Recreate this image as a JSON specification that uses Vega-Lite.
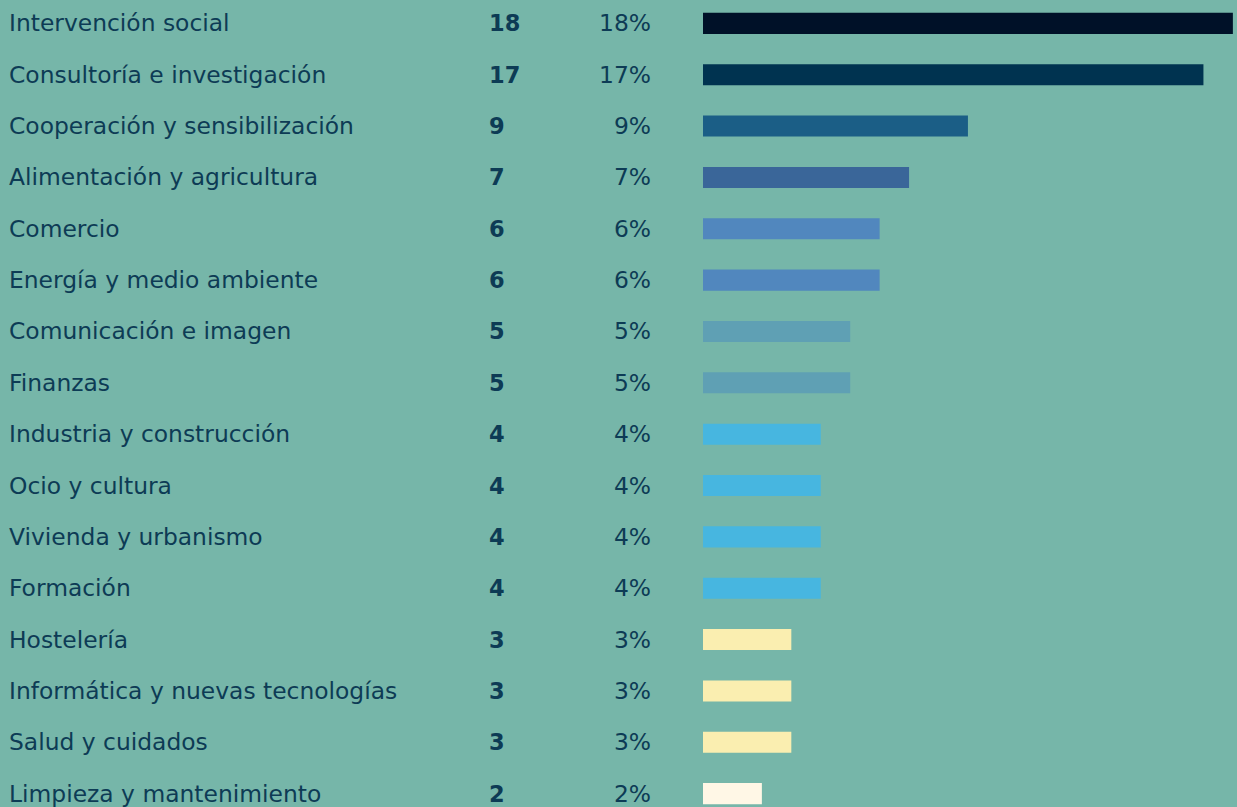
{
  "$schema": "https://vega.github.io/schema/vega-lite/v6.json",
  "background": "#76B6A9",
  "padding": {"left": 9, "top": 0, "right": 0, "bottom": 0},
  "spacing": 0,
  "config": {
    "view": {"stroke": null},
    "concat": {"spacing": 0},
    "text": {"font": "DejaVu Sans", "fontSize": 23.4, "color": "#0D3B55", "baseline": "middle"}
  },
  "data": {
    "values": [
      {"sector": "Intervención social", "n": 18, "pct": "18%"},
      {"sector": "Consultoría e investigación", "n": 17, "pct": "17%"},
      {"sector": "Cooperación y sensibilización", "n": 9, "pct": "9%"},
      {"sector": "Alimentación y agricultura", "n": 7, "pct": "7%"},
      {"sector": "Comercio", "n": 6, "pct": "6%"},
      {"sector": "Energía y medio ambiente", "n": 6, "pct": "6%"},
      {"sector": "Comunicación e imagen", "n": 5, "pct": "5%"},
      {"sector": "Finanzas", "n": 5, "pct": "5%"},
      {"sector": "Industria y construcción", "n": 4, "pct": "4%"},
      {"sector": "Ocio y cultura", "n": 4, "pct": "4%"},
      {"sector": "Vivienda y urbanismo", "n": 4, "pct": "4%"},
      {"sector": "Formación", "n": 4, "pct": "4%"},
      {"sector": "Hostelería", "n": 3, "pct": "3%"},
      {"sector": "Informática y nuevas tecnologías", "n": 3, "pct": "3%"},
      {"sector": "Salud y cuidados", "n": 3, "pct": "3%"},
      {"sector": "Limpieza y mantenimiento", "n": 2, "pct": "2%"}
    ]
  },
  "resolve": {"scale": {"y": "shared"}},
  "hconcat": [
    {
      "width": 480,
      "height": 817,
      "mark": {"type": "text", "align": "left", "dy": 1},
      "encoding": {
        "y": {"field": "sector", "type": "nominal", "sort": null, "axis": null,
              "scale": {"paddingInner": 0.59, "paddingOuter": 0.25}},
        "x": {"value": 0},
        "text": {"field": "sector"}
      }
    },
    {
      "width": 214,
      "height": 817,
      "layer": [
        {
          "mark": {"type": "text", "align": "left", "fontWeight": "bold", "fontSize": 22.5, "dy": 1},
          "encoding": {
            "y": {"field": "sector", "type": "nominal", "sort": null, "axis": null},
            "x": {"value": 0},
            "text": {"field": "n"}
          }
        },
        {
          "mark": {"type": "text", "align": "right", "dy": 1},
          "encoding": {
            "y": {"field": "sector", "type": "nominal", "sort": null, "axis": null},
            "x": {"value": 162},
            "text": {"field": "pct"}
          }
        }
      ]
    },
    {
      "width": 534,
      "height": 817,
      "mark": {"type": "bar"},
      "encoding": {
        "y": {"field": "sector", "type": "nominal", "sort": null, "axis": null},
        "x": {"field": "n", "type": "quantitative", "axis": null,
              "scale": {"domain": [0, 18.14], "nice": false, "zero": true}},
        "color": {"field": "n", "type": "ordinal", "legend": null,
                  "scale": {"domain": [18, 17, 9, 7, 6, 5, 4, 3, 2],
                            "range": ["#001128", "#003350", "#1B5E86", "#3A6699", "#5187BE", "#5FA0B4", "#47B6E0", "#FAEEB0", "#FFF7E6"]}}
      }
    }
  ]
}
